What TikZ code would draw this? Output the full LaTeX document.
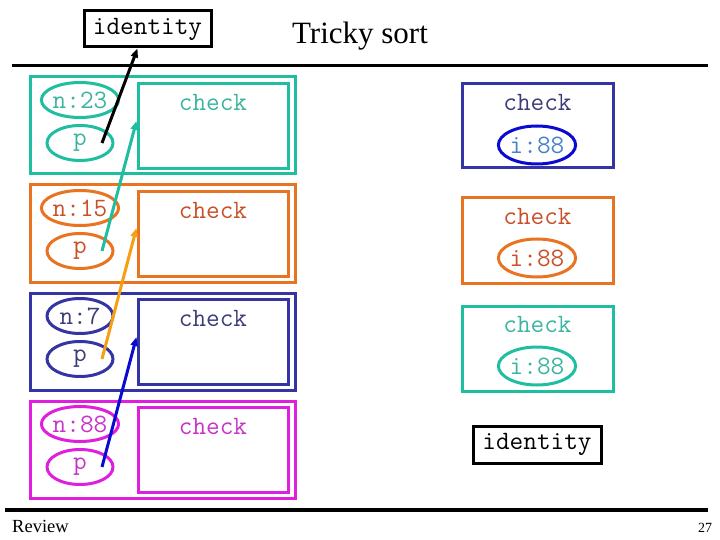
\documentclass[tikz,border=0pt]{standalone}
\usepackage{fontspec}
\setmainfont{Liberation Serif}
\usetikzlibrary{shapes.geometric,arrows.meta,calc}
\definecolor{cteal}{RGB}{32,190,160}
\definecolor{corange}{RGB}{232,115,32}
\definecolor{cindigo}{RGB}{52,52,165}
\definecolor{cmagenta}{RGB}{222,32,222}
\definecolor{tteal}{RGB}{60,180,160}
\definecolor{torange}{RGB}{200,80,40}
\definecolor{tindigo}{RGB}{60,60,120}
\definecolor{tmagenta}{RGB}{200,50,200}
\definecolor{cblue}{RGB}{10,10,210}
\definecolor{tblue}{RGB}{70,130,200}
\definecolor{camber}{RGB}{245,160,20}
\begin{document}
\begin{tikzpicture}[x=1pt,y=-1pt,
  mono/.style={font=\ttfamily\fontsize{26.5}{26.5}\selectfont, inner sep=0pt},
  frame/.style={draw, rectangle, line width=3pt, inner sep=0pt},
  oval/.style={draw, ellipse, line width=3pt, inner sep=0pt, minimum width=66pt, minimum height=35pt},
  ptr/.style={line width=3pt, -{Triangle[length=9pt,width=7pt]}}]
\useasboundingbox (0,0) rectangle (720,540);
% title and rules
\node (title) at (360,36) {\fontsize{31}{31}\selectfont Tricky sort};
\draw[line width=3pt] (12,66) -- (708,66);
\draw[line width=3.5pt] (5,510) -- (708,510);
\node[anchor=west, inner sep=0pt] (review) at (12,526) {\fontsize{18.5}{18.5}\selectfont Review};
\node[inner sep=0pt] (pg) at (705,528) {\fontsize{14}{14}\selectfont 27};
% identity boxes
\node[mono, frame, minimum width=127pt, minimum height=36pt] (id1) at (147.5,29) {identity};
\node[mono, frame, minimum width=128pt, minimum height=37pt] (id2) at (537,444.5) {identity};
% left column rows
\foreach \k/\c/\t/\n in {0/cteal/tteal/23, 1/corange/torange/15, 2/cindigo/tindigo/7, 3/cmagenta/tmagenta/88}{
  \node[frame, draw=\c, minimum width=265pt, minimum height=97pt] (outer\k) at (162.5,125.5+108*\k) {};
  \node[frame, draw=\c, minimum width=150pt, minimum height=85pt] (inner\k) at (213,126+108*\k) {};
  \node[mono, text=\t] (chk\k) at (213,102+108*\k) {check};
  \node[oval, draw=\c, text=\t, mono] (n\k) at (80,100+108*\k) {n:\n};
  \node[oval, draw=\c, text=\t, mono] (p\k) at (80,143+108*\k) {p};
  \coordinate (s\k) at (102,143+108*\k);
}
% right column
\node[frame, draw=cindigo, minimum width=151pt, minimum height=84pt] (rb1) at (537.5,126) {};
\node[mono, text=tindigo] (rc1) at (537.5,102) {check};
\node[oval, draw=cblue, text=tblue, mono, minimum width=70pt, minimum height=38pt] (ri1) at (537,145) {i:88};
\node[frame, draw=corange, minimum width=151pt, minimum height=85pt] (rb2) at (537.5,240.5) {};
\node[mono, text=torange] (rc2) at (537.5,216) {check};
\node[oval, draw=corange, text=torange, mono, minimum width=70pt, minimum height=38pt] (ri2) at (537,258) {i:88};
\node[frame, draw=cteal, minimum width=151pt, minimum height=85pt] (rb3) at (537.5,348.5) {};
\node[mono, text=tteal] (rc3) at (537.5,324) {check};
\node[oval, draw=cteal, text=tteal, mono, minimum width=70pt, minimum height=38pt] (ri3) at (537,366) {i:88};
% pointers
\draw[ptr, black] (s0) -- ([xshift=-10pt]id1.south);
\draw[ptr, cteal] (s1) -- ([yshift=5pt]inner0.west);
\draw[ptr, camber] (s2) -- ([yshift=6pt]inner1.west);
\draw[ptr, cblue] (s3) -- ([yshift=5pt]inner2.west);
\end{tikzpicture}
\end{document}
